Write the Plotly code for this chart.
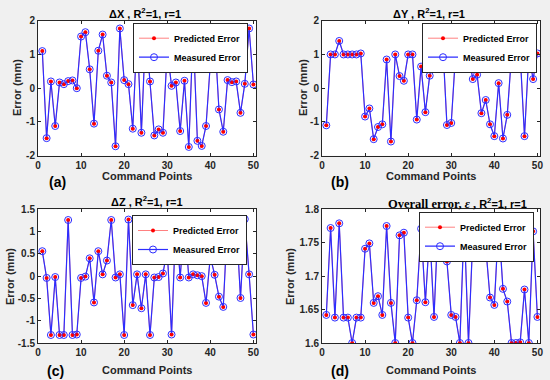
import plotly.graph_objects as go

points = list(range(1, 51))

dx_err = [1.10, -1.48, 0.20, -1.12, 0.17, 0.12, 0.21, 0.23, 0.00, 1.53,
          1.66, 0.56, -1.05, 1.11, 1.59, 0.37, 0.17, -1.72, 1.77, 0.24,
          0.12, -1.20, 1.67, -1.32, 1.75, 0.20, -1.40, -1.22, -1.32, 1.13,
          0.07, 0.17, -1.27, 0.22, -1.74, 1.70, -1.56, -1.71, -1.12, 0.73,
          1.60, -0.63, -1.29, 0.24, 0.18, 0.20, -0.73, 0.13, 1.77, 0.11]

dy_err = [-1.10, 1.0, 1.0, 1.40, 1.0, 1.0, 1.0, 1.0, 1.03, -0.84,
          -0.60, -1.51, -1.15, -1.07, 0.85, -1.58, 1.0, 0.36, 0.22, 1.0,
          1.0, -0.93, 0.64, -0.71, 0.37, 1.0, 1.14, 1.40, -1.09, -1.03,
          1.0, 0.99, 1.30, 1.0, 0.27, 0.40, -0.74, -0.35, -1.07, -1.42,
          0.15, -1.49, -0.79, 1.0, 1.0, 1.0, -1.42, 1.0, 0.27, 1.03]

dz_err = [0.56, -0.04, -1.32, -0.02, -1.32, -1.32, 1.26, -1.32, -1.31, -0.04,
          -0.01, 0.40, -0.59, 0.56, 0.04, 0.35, 1.26, -0.03, 0.04, -1.32,
          1.27, -0.65, 0.04, -0.72, 0.04, -1.32, -0.03, -0.02, 0.06, 0.58,
          -1.31, 1.26, -0.03, 1.26, -0.03, 0.04, 0.02, 0.0, -0.60, 0.44,
          0.03, -0.46, -0.69, 1.26, 1.26, 1.26, -0.49, 1.28, 0.04, -1.31]

overall_err = [1.642, 1.772, 1.638, 1.779, 1.638, 1.638, 1.600, 1.638, 1.638, 1.741,
               1.749, 1.660, 1.670, 1.642, 1.775, 1.660, 1.600, 1.761, 1.765, 1.638,
               1.600, 1.664, 1.771, 1.661, 1.767, 1.639, 1.790, 1.775, 1.722, 1.642,
               1.639, 1.600, 1.780, 1.600, 1.757, 1.780, 1.734, 1.744, 1.668, 1.657,
               1.780, 1.681, 1.662, 1.600, 1.600, 1.601, 1.680, 1.600, 1.767, 1.639]

x_ticks = [0, 10, 20, 30, 40, 50]
xy_ticks = [-2, -1, 0, 1, 2]
xy_ticktext = ["-2", "-1", "0", "1", "2"]
z_ticks = [-1.5, -1, -0.5, 0, 0.5, 1, 1.5]
z_ticktext = ["-1.5", "-1", "-0.5", "0", "0.5", "1", "1.5"]
o_ticks = [1.6, 1.65, 1.7, 1.75, 1.8]
o_ticktext = ["1.6", "1.65", "1.7", "1.75", "1.8"]

titles = ["<b>ΔX , R<sup>2</sup>=1, r=1</b>",
          "<b>ΔY , R<sup>2</sup>=1, r=1</b>",
          "<b>ΔZ , R<sup>2</sup>=1, r=1</b>",
          "<b><span style='font-family:Liberation Serif;font-size:12.5px'>Overall error, <i>ε</i> ,</span> R<sup>2</sup>=1, r=1</b>"]
panel_labels = ["(a)", "(b)", "(c)", "(d)"]

W, H = 550, 380
def px(v): return v / W
def py(v): return 1 - v / H

FONT = "Liberation Sans, Arial, sans-serif"
AX = "#262626"
BLUE = "rgb(45,45,255)"
RED = "rgb(255,0,0)"

panels = [
    dict(data=dx_err, xd=(38, 256), yd=(20.7, 155.7), yr=[-2, 2], tv=xy_ticks, tt=xy_ticktext,
         leg=(248, 22.7), title=(145, 13, "center"), ylab=(17, 88), xlab=(147, 176), lab=(57, 182)),
    dict(data=dy_err, xd=(322, 540), yd=(20.7, 155.7), yr=[-2, 2], tv=xy_ticks, tt=xy_ticktext,
         leg=(537, 22.7), title=(429, 13, "center"), ylab=(303, 88), xlab=(431, 176), lab=(340, 182)),
    dict(data=dz_err, xd=(38, 256), yd=(209.3, 343), yr=[-1.5, 1.5], tv=z_ticks, tt=z_ticktext,
         leg=(247, 215), title=(147, 201, "center"), ylab=(10, 277), xlab=(147, 370), lab=(55, 371)),
    dict(data=overall_err, xd=(322, 540), yd=(209.3, 343), yr=[1.6, 1.8], tv=o_ticks, tt=o_ticktext,
         leg=(534, 211.7), title=(386, 203, "left"), ylab=(290, 277), xlab=(431, 370), lab=(340, 371)),
]

fig = go.Figure()
layout = dict(width=W, height=H, margin=dict(l=0, r=0, t=0, b=0, autoexpand=False),
              paper_bgcolor="#f0f0f0", plot_bgcolor="white",
              font=dict(family=FONT, color=AX), annotations=[])

for i, p in enumerate(panels, start=1):
    sfx = "" if i == 1 else str(i)
    xa, ya, lg = "x" + sfx, "y" + sfx, "legend" + sfx
    fig.add_trace(go.Scatter(x=points, y=p["data"], mode="lines+markers", name="Predicted Error",
                             line=dict(color=RED, width=0.5), marker=dict(color=RED, size=4),
                             xaxis=xa, yaxis=ya, legend=lg))
    fig.add_trace(go.Scatter(x=points, y=p["data"], mode="lines+markers", name="Measured Error",
                             line=dict(color=BLUE, width=1.2),
                             marker=dict(symbol="circle-open", color=BLUE, size=7, line=dict(width=1)),
                             xaxis=xa, yaxis=ya, legend=lg))
    fig.add_trace(go.Scatter(x=points, y=p["data"], mode="markers", showlegend=False,
                             marker=dict(color=RED, size=3), xaxis=xa, yaxis=ya, hoverinfo="skip"))
    axis_common = dict(ticks="inside", ticklen=3, tickcolor=AX, showline=True, linecolor=AX,
                       linewidth=1, mirror="ticks", showgrid=False, zeroline=False,
                       automargin=False,
                       tickfont=dict(size=10, family=FONT, weight="bold", color=AX))
    layout["xaxis" + sfx] = dict(domain=[px(p["xd"][0]), px(p["xd"][1])], range=[0, 50.6],
                                 anchor=ya, tickvals=x_ticks, **axis_common)
    layout["yaxis" + sfx] = dict(domain=[py(p["yd"][1]), py(p["yd"][0])], range=p["yr"],
                                 anchor=xa, tickvals=p["tv"], ticktext=p["tt"], **axis_common)
    layout[lg] = dict(x=px(p["leg"][0]), y=py(p["leg"][1]), xanchor="right", yanchor="top",
                      bgcolor="white", bordercolor=AX, borderwidth=1,
                      font=dict(size=9, family=FONT, weight="bold", color="black"),
                      itemwidth=30, tracegroupgap=0)
    tx, ty, anc = p["title"]
    layout["annotations"].append(dict(text=titles[i - 1], x=px(tx), y=py(ty), xref="paper",
                                      yref="paper", xanchor=anc, yanchor="middle", showarrow=False,
                                      font=dict(size=11, family=FONT, color="black")))
    layout["annotations"].append(dict(text="<b>Error (mm)</b>", x=px(p["ylab"][0]), y=py(p["ylab"][1]),
                                      xref="paper", yref="paper", textangle=-90, showarrow=False,
                                      xanchor="center", yanchor="middle",
                                      font=dict(size=11, family=FONT, color=AX)))
    layout["annotations"].append(dict(text="<b>Command Points</b>", x=px(p["xlab"][0]), y=py(p["xlab"][1]),
                                      xref="paper", yref="paper", showarrow=False,
                                      xanchor="center", yanchor="middle",
                                      font=dict(size=11, family=FONT, color=AX)))
    layout["annotations"].append(dict(text="<b>" + panel_labels[i - 1] + "</b>", x=px(p["lab"][0]),
                                      y=py(p["lab"][1]), xref="paper", yref="paper", showarrow=False,
                                      xanchor="center", yanchor="middle",
                                      font=dict(size=14, family=FONT, color="black")))

fig.update_layout(**layout)
fig.write_html("out.html", config={"displayModeBar": False},
               post_script="document.body.style.margin='0';document.body.style.background='#f0f0f0';")
